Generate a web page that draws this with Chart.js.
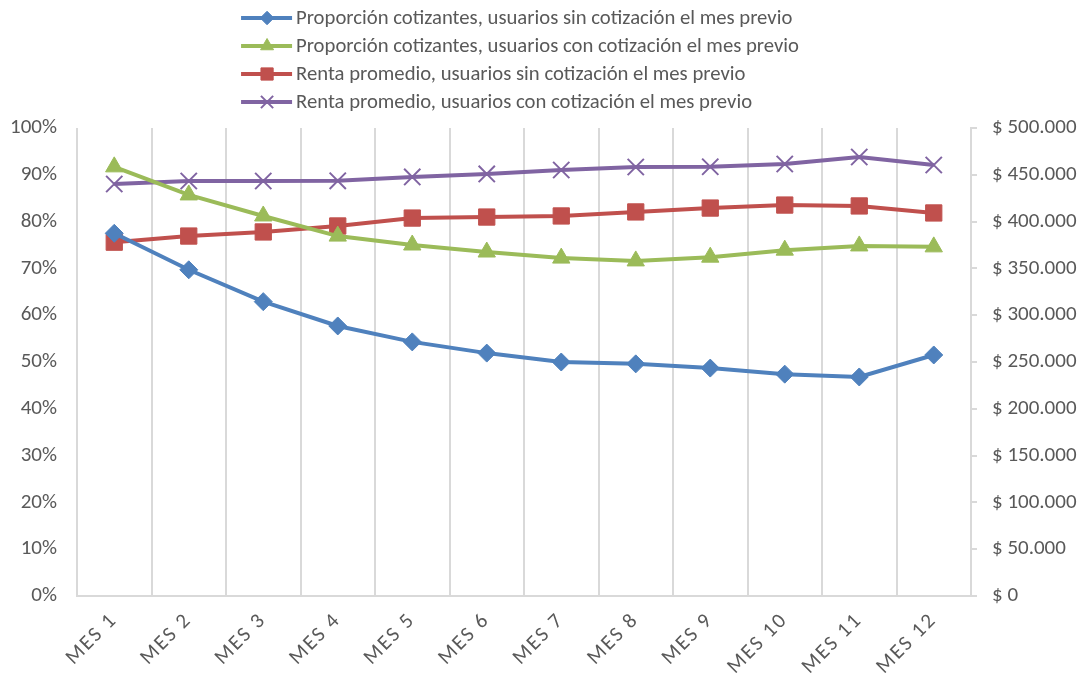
<!DOCTYPE html>
<html>
<head>
<meta charset="utf-8">
<script src="https://cdn.jsdelivr.net/npm/chart.js@4.4.1/dist/chart.umd.min.js"></script>
<style>
    html, body { margin: 0; padding: 0; background: #fff; }
    #wrap { width: 1083px; height: 687px; }
</style>
</head>
<body>
<div id="wrap"><canvas id="chart"></canvas></div>
<script>
// Categories
const MONTHS = ["MES 1", "MES 2", "MES 3", "MES 4", "MES 5", "MES 6",
                "MES 7", "MES 8", "MES 9", "MES 10", "MES 11", "MES 12"];

// Share of contributors (%), left axis
const SHARE_NO_PREV = [77.5, 69.7, 62.9, 57.7, 54.3, 51.9, 50.0, 49.6, 48.7, 47.4, 46.8, 51.5];
const SHARE_PREV    = [91.7, 85.7, 81.2, 76.9, 75.0, 73.5, 72.2, 71.6, 72.4, 73.9, 74.8, 74.6];

// Average income ($), right axis
const INCOME_NO_PREV = [378000, 384600, 388900, 395300, 403800, 404900, 406000, 410300, 414500, 417700, 416700, 409200];
const INCOME_PREV    = [440200, 443400, 443400, 443600, 447700, 450900, 455100, 458300, 458600, 461500, 469000, 460500];

const FONT = "Carlito, 'Open Sans', sans-serif";
const FONT_SIZE = 21;
const TEXT = "#595959";
const GRID = "#d9d9d9";

function fmtMoney(v) {
    return "$ " + String(v).replace(/\B(?=(\d{3})+(?!\d))/g, ".");
}

function series(label, data, color, style, radius, axis, extra) {
    return Object.assign({
        label, data, yAxisID: axis,
        borderColor: color, backgroundColor: color,
        borderWidth: 4, pointStyle: style, pointRadius: radius,
        pointHoverRadius: radius, pointBorderColor: color,
        pointBackgroundColor: color, pointBorderWidth: 1,
        tension: 0
    }, extra || {});
}

// Stacked legend above the plot: a line segment with its marker, then the text
const stackedLegend = {
    id: "stackedLegend",
    afterDraw(chart) {
        const ctx = chart.ctx;
        const area = chart.chartArea;
        ctx.save();
        ctx.font = "20.7px " + FONT;
        const sets = chart.data.datasets;
        const maxW = Math.max(...sets.map(d => ctx.measureText(d.label).width));
        const blockW = 55 + maxW;
        const x0 = (area.left + area.right) / 2 - 4 - blockW / 2;
        sets.forEach((ds, i) => {
            const y = 18 + i * 28;
            ctx.strokeStyle = ds.borderColor;
            ctx.lineWidth = 4;
            ctx.beginPath();
            ctx.moveTo(x0, y);
            ctx.lineTo(x0 + 51, y);
            ctx.stroke();
            ctx.fillStyle = ds.backgroundColor;
            ctx.lineWidth = ds.pointStyle === "crossRot" ? 2 : 1;
            Chart.helpers.drawPoint(ctx, {
                pointStyle: ds.pointStyle,
                radius: ds.pointRadius * 0.75,
                rotation: 0,
                borderWidth: ds.pointStyle === "crossRot" ? 2 : 1
            }, x0 + 26, y);
            ctx.fillStyle = TEXT;
            ctx.textBaseline = "middle";
            ctx.textAlign = "left";
            ctx.fillText(ds.label, x0 + 55, y + 1);
        });
        ctx.restore();
    }
};

// Month labels are drawn a little letter-spaced, like the original
const spacedMonths = {
    id: "spacedMonths",
    afterLayout(chart) {
        const sx = chart.scales.x;
        if (sx._spaced) return;
        const orig = sx.drawLabels.bind(sx);
        sx.drawLabels = function (area) {
            const ctx = chart.ctx;
            const prev = ctx.letterSpacing;
            ctx.letterSpacing = "2px";
            orig(area);
            ctx.letterSpacing = prev || "0px";
        };
        sx._spaced = true;
    }
};

new Chart(document.getElementById("chart"), {
    type: "line",
    data: {
        labels: MONTHS,
        datasets: [
            series("Proporción cotizantes, usuarios sin cotización el mes previo",
                SHARE_NO_PREV, "#4f81bd", "rectRot", 9, "yL"),
            series("Proporción cotizantes, usuarios con cotización el mes previo",
                SHARE_PREV, "#9bbb59", "triangle", 10, "yL"),
            series("Renta promedio, usuarios sin cotización el mes previo",
                INCOME_NO_PREV, "#c0504d", "rect", 11.5, "yR"),
            series("Renta promedio, usuarios con cotización el mes previo",
                INCOME_PREV, "#8064a2", "crossRot", 11.5, "yR", { pointBorderWidth: 2 })
        ]
    },
    options: {
        responsive: true,
        maintainAspectRatio: false,
        animation: false,
        layout: { padding: { top: 128, left: 0, right: 0, bottom: 0 } },
        plugins: {
            legend: { display: false },
            tooltip: { enabled: false }
        },
        scales: {
            x: {
                offset: true,
                grid: { offset: true, color: GRID, lineWidth: 2, drawTicks: false },
                border: { color: GRID, width: 2 },
                ticks: {
                    maxRotation: 45, minRotation: 45, padding: 12,
                    color: TEXT, font: { family: FONT, size: FONT_SIZE }
                },
                afterFit(scale) { scale.height = 91; }
            },
            yL: {
                position: "left",
                min: 0, max: 100,
                grid: { display: false, drawTicks: false },
                border: { display: false },
                ticks: {
                    stepSize: 10, padding: 20, color: TEXT,
                    font: { family: FONT, size: FONT_SIZE },
                    callback: v => v + "%"
                },
                afterFit(scale) { scale.width = 77; }
            },
            yR: {
                position: "right",
                min: 0, max: 500000,
                grid: { drawOnChartArea: false, color: GRID, lineWidth: 2, tickLength: 6 },
                border: { display: true, color: GRID, width: 2 },
                ticks: {
                    stepSize: 50000, padding: 15, color: TEXT,
                    font: { family: FONT, size: FONT_SIZE },
                    callback: v => fmtMoney(v)
                },
                afterFit(scale) { scale.width = 112; }
            }
        }
    },
    plugins: [stackedLegend, spacedMonths]
});
</script>
</body>
</html>
